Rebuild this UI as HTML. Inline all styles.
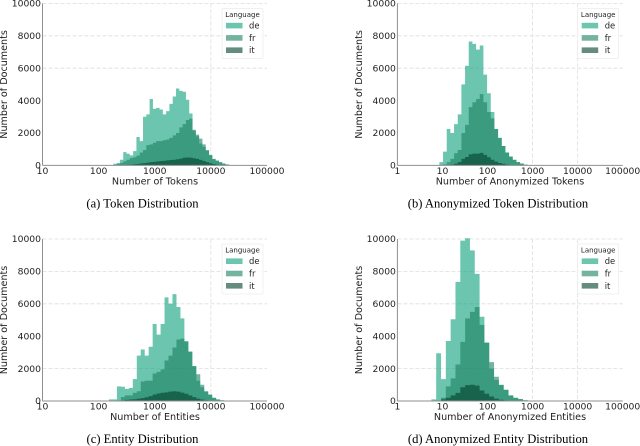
<!DOCTYPE html>
<html lang="en">
<head>
<meta charset="utf-8">
<title>Document distributions by language</title>
<style>
  html, body { margin: 0; padding: 0; background: #fff; }
  body { width: 640px; height: 446px; overflow: hidden; }
  svg { display: block; filter: blur(0.35px); }
  text { font-family: "DejaVu Sans", "Liberation Sans", sans-serif; fill: #1f1f1f; }
  .caption { font-family: "Liberation Serif", serif; fill: #000; font-size: 12.6px; }
</style>
</head>
<body>
<svg id="figure" xmlns="http://www.w3.org/2000/svg" width="640" height="446" viewBox="0 0 640 446"></svg>
<script>
// Shared axis values
const languages = ['de', 'fr', 'it'];
const yTicks = [0, 2000, 4000, 6000, 8000, 10000];
const xTicksFrom10 = [10, 100, 1000, 10000, 100000];
const xTicksFrom1 = [1, 10, 100, 1000, 10000, 100000];

// (a) Token distribution: bins are log10-spaced
const tokenBinStart = 2.262;
const tokenBinWidth = 0.0588;
const tokenDe = [100,150,350,820,720,620,880,1750,1500,3000,3150,4100,3500,3550,3450,3150,3350,3800,4250,4750,4600,4550,4050,3200,2150,1800,1350,1150,900,620,390,290,190,110,50,20];
const tokenFr = [0,80,150,250,350,450,500,600,800,950,1250,1300,1400,1500,1500,1550,1600,1700,1850,2000,2350,2550,2800,2880,2200,1900,1650,1300,950,650,400,300,200,120,60,20];
const tokenIt = [0,0,0,0,30,40,70,90,120,140,170,200,220,250,270,290,310,330,350,380,420,470,490,480,440,400,340,270,200,130,90,50,20,10,5,0];

// (b) Anonymized token distribution
const anonTokenBinStart = 0.932;
const anonTokenBinWidth = 0.0814;
const anonTokenDe = [200,850,2250,2000,2550,3150,5000,6150,7650,7500,7150,7400,5600,4450,3300,2240,1700,1200,800,540,340,200,110,45,15];
const anonTokenFr = [0,60,200,400,750,950,2000,2500,3600,3900,4100,4400,3900,3300,2900,2250,1700,1200,800,550,350,200,120,50,20];
const anonTokenIt = [0,0,0,40,100,200,400,520,680,730,730,770,650,500,350,230,150,100,50,20,10,5,0,0,0];

// (c) Entity distribution
const entityBinStart = 2.185;
const entityBinWidth = 0.0707;
const entityDe = [100,100,900,880,750,800,1350,2800,3180,2800,3350,4750,4100,4750,6400,6000,6600,5800,5100,3700,3050,2150,1250,850,580,390,190,90,40,20];
const entityFr = [0,20,40,250,350,350,500,600,1200,1250,1250,1700,1800,1950,2500,2800,3300,3800,3850,3650,3050,2150,1650,1000,600,400,200,100,50,25];
const entityIt = [0,0,0,40,70,90,110,150,180,230,300,400,460,510,530,580,600,580,520,450,340,240,150,90,50,20,10,5,0,0];

// (d) Anonymized entity distribution
const anonEntityBinStart = 0.754;
const anonEntityBinWidth = 0.107;
const anonEntityDe = [100,2950,1350,3700,5050,7350,9900,10050,9300,7850,5200,3600,2000,1300,980,680,340,190,110,45,18,8];
const anonEntityFr = [0,40,200,900,1400,2250,3650,5100,5500,5800,4700,3600,2400,1500,1000,700,350,200,120,50,20,10];
const anonEntityIt = [0,0,100,200,350,500,850,980,1000,950,650,450,280,150,80,40,15,5,0,0,0,0];

const NS = 'http://www.w3.org/2000/svg';
const figure = document.getElementById('figure');
const fills = { de: 'rgb(10,158,120)', fr: 'rgb(27,127,97)', it: 'rgb(0,63,43)' };

function svgEl(parent, tag, attrs, content) {
  const el = document.createElementNS(NS, tag);
  for (const k in attrs) el.setAttribute(k, attrs[k]);
  if (content !== undefined) el.textContent = content;
  parent.appendChild(el);
  return el;
}

function drawPanel(p) {
  const g = svgEl(figure, 'g', {});
  
  

  const logMin = Math.log10(p.xTicks[0]);
  const logMax = Math.log10(p.xTicks[p.xTicks.length - 1]);
  const xScale = function (logValue) {
    return p.left + (logValue - logMin) / (logMax - logMin) * (p.right - p.left);
  };
  const yScale = function (count) {
    return p.bottom - count / 10000 * (p.bottom - p.top);
  };

  // grid lines
  p.yGrid.forEach(function (v) {
    const line = svgEl(g, 'line', { x1: p.left, x2: p.right, y1: yScale(v), y2: yScale(v), stroke: '#dedede', 'stroke-width': 0.8, 'stroke-dasharray': '4 2' });
    
    
  });
  p.xGrid.forEach(function (v) {
    const lx = xScale(Math.log10(v));
    const line = svgEl(g, 'line', { x1: lx, x2: lx, y1: p.top, y2: p.bottom, stroke: '#dedede', 'stroke-width': 0.8, 'stroke-dasharray': '4 2' });
    
    
  });

  // histogram series, each a stepped area built from its bin counts
  languages.forEach(function (lang) {
    const values = p.series[lang];
    let d = 'M' + xScale(p.binStart) + ' ' + yScale(0);
    values.forEach(function (v, i) {
      const a = xScale(p.binStart + i * p.binWidth);
      const b = xScale(p.binStart + (i + 1) * p.binWidth);
      d += 'L' + a + ' ' + yScale(v) + 'L' + b + ' ' + yScale(v);
    });
    d += 'L' + xScale(p.binStart + values.length * p.binWidth) + ' ' + yScale(0) + 'Z';
    const path = svgEl(g, 'path', { d: d, fill: fills[lang], 'fill-opacity': 0.6 });
    
    
  });

  // spines
  const ySpine = svgEl(g, 'line', { x1: p.left, x2: p.left, y1: p.top, y2: p.bottom, stroke: '#8f8f8f', 'stroke-width': 1 });
  
  
  const xSpine = svgEl(g, 'line', { x1: p.left, x2: p.right, y1: p.bottom, y2: p.bottom, stroke: '#8f8f8f', 'stroke-width': 1 });
  
  

  // tick labels
  yTicks.forEach(function (v) {
    const t = svgEl(g, 'text', { x: p.left - 1.5, y: yScale(v) + 3.2, 'text-anchor': 'end', 'font-size': 9.2 }, String(v));
    
    
  });
  p.xTicks.forEach(function (v) {
    const t = svgEl(g, 'text', { x: xScale(Math.log10(v)), y: p.bottom + 8.4, 'text-anchor': 'middle', 'font-size': 9.2 }, String(v));
    
    
  });

  // axis titles
  const xt = svgEl(g, 'text', { x: p.xTitleX, y: p.bottom + 19.2, 'text-anchor': 'middle', 'font-size': 9.6 }, p.xTitle);
  
  
  const yc = p.top + 81;
  const yt = svgEl(g, 'text', { x: 0, y: 0, 'text-anchor': 'middle', 'font-size': 9.6, transform: 'translate(' + (p.left - 35.5) + ' ' + yc + ') rotate(-90)' }, 'Number of Documents');
  
  

  // legend
  const lx = p.right - 45;
  const ly = p.top + 5;
  const lg = svgEl(g, 'g', {});
  
  
  svgEl(lg, 'rect', { x: lx, y: ly, width: 41, height: 50, rx: 1.5, fill: '#fff', 'fill-opacity': 0.85, stroke: '#ececec', 'stroke-width': 0.7 });
  const lt = svgEl(lg, 'text', { x: lx + 20.5, y: ly + 8.6, 'text-anchor': 'middle', 'font-size': 7 }, 'Language');
  
  
  languages.forEach(function (lang, i) {
    const rowY = ly + 14.4 + i * 12.3;
    const sw = svgEl(lg, 'rect', { x: lx + 4, y: rowY, width: 16.5, height: 5.6, fill: fills[lang], 'fill-opacity': 0.6 });
    
    
    const lb = svgEl(lg, 'text', { x: lx + 27, y: rowY + 5.8, 'font-size': 8.4 }, lang);
    
    
  });

  // caption
  const cap = svgEl(g, 'text', { x: p.capX, y: p.bottom + 42, 'text-anchor': 'middle', class: 'caption' }, p.caption);
  
  
}

drawPanel({
  id: 'token', left: 42.5, right: 267, top: 3.4, bottom: 165.4,
  xTicks: xTicksFrom10, xGrid: [10000], yGrid: [6000, 8000, 10000],
  binStart: tokenBinStart, binWidth: tokenBinWidth,
  series: { de: tokenDe, fr: tokenFr, it: tokenIt },
  xTitle: 'Number of Tokens', xTitleX: 155, caption: '(a) Token Distribution', capX: 142.5
});
drawPanel({
  id: 'anonymized-token', left: 397.4, right: 622.7, top: 3.4, bottom: 165.4,
  xTicks: xTicksFrom1, xGrid: [1000, 10000], yGrid: [6000, 8000, 10000],
  binStart: anonTokenBinStart, binWidth: anonTokenBinWidth,
  series: { de: anonTokenDe, fr: anonTokenFr, it: anonTokenIt },
  xTitle: 'Number of Anonymized Tokens', xTitleX: 510, caption: '(b) Anonymized Token Distribution', capX: 498
});
drawPanel({
  id: 'entity', left: 42.5, right: 267, top: 239, bottom: 401,
  xTicks: xTicksFrom10, xGrid: [10000], yGrid: [2000, 6000, 8000, 10000],
  binStart: entityBinStart, binWidth: entityBinWidth,
  series: { de: entityDe, fr: entityFr, it: entityIt },
  xTitle: 'Number of Entities', xTitleX: 155, caption: '(c) Entity Distribution', capX: 142.5
});
drawPanel({
  id: 'anonymized-entity', left: 397.4, right: 622.7, top: 239, bottom: 401,
  xTicks: xTicksFrom1, xGrid: [1000, 10000], yGrid: [2000, 6000, 8000, 10000],
  binStart: anonEntityBinStart, binWidth: anonEntityBinWidth,
  series: { de: anonEntityDe, fr: anonEntityFr, it: anonEntityIt },
  xTitle: 'Number of Anonymized Entities', xTitleX: 510, caption: '(d) Anonymized Entity Distribution', capX: 498
});
</script>
</body>
</html>
